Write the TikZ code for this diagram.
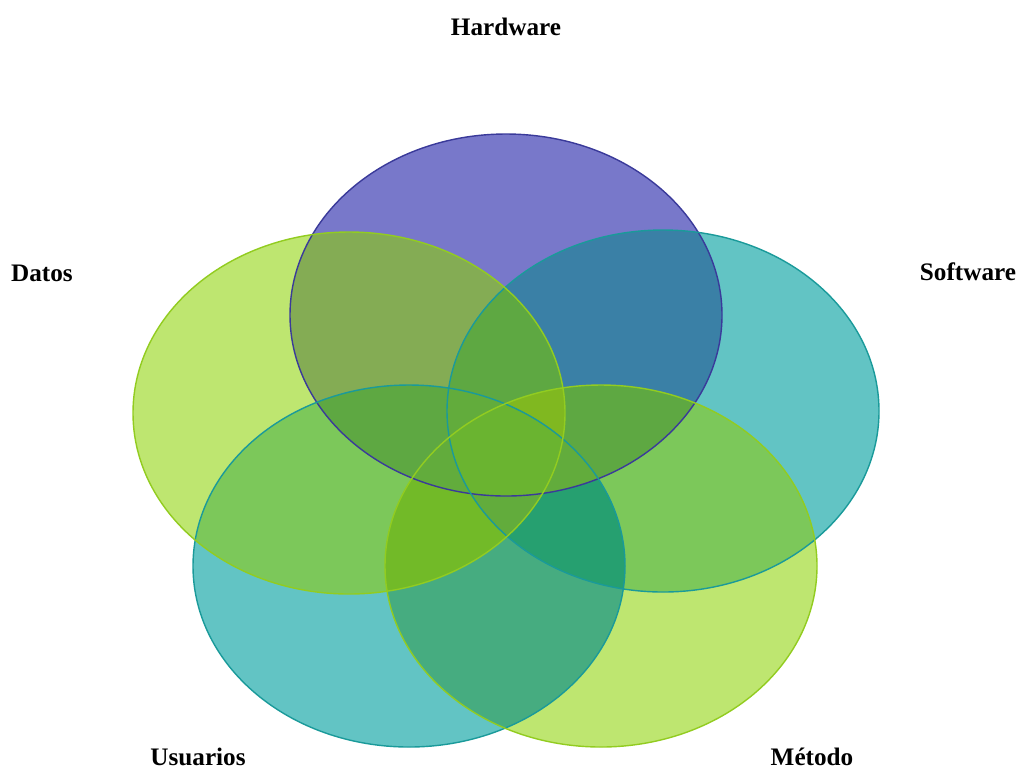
\documentclass[tikz,border=0pt]{standalone}
\usepackage{fontspec}
\setmainfont{Liberation Serif}
\usepackage{tikz}
\usetikzlibrary{positioning}
% single sets
\definecolor{hwfill}{RGB}{120,120,202}
\definecolor{hwline}{RGB}{58,58,154}
\definecolor{lime}{RGB}{190,230,112}
\definecolor{limeline}{RGB}{146,204,32}
\definecolor{teal}{RGB}{98,196,196}
\definecolor{tealline}{RGB}{26,154,154}
% overlaps
\definecolor{pairHD}{RGB}{132,172,84}
\definecolor{pairHS}{RGB}{58,128,166}
\definecolor{pairG}{RGB}{124,200,90}
\definecolor{pairUM}{RGB}{70,172,128}
\definecolor{tri}{RGB}{94,168,66}
\definecolor{triDUM}{RGB}{114,186,40}
\definecolor{triSUM}{RGB}{38,160,112}
\definecolor{quad}{RGB}{98,172,60}
\definecolor{quadHDSM}{RGB}{128,184,32}
\definecolor{five}{RGB}{106,180,48}
\tikzset{
  petal/.style={line width=1.2pt},
  lbl/.style={font=\fontsize{21.5}{24}\selectfont\bfseries, inner sep=0pt}
}

\begin{document}
\begin{tikzpicture}[x=0.03cm, y=-0.03cm]
  \useasboundingbox (0,0) rectangle (1021,771);

  % centres of the five sets
  \coordinate (H) at (506,315);
  \coordinate (S) at (663,411);
  \coordinate (M) at (601,566);
  \coordinate (U) at (409,566);
  \coordinate (D) at (349,413);

  % single sets
  \fill[hwfill] (H) ellipse (216 and 181);
  \foreach \s/\c in {S/teal, M/lime, U/teal, D/lime}
    \fill[\c] (\s) ellipse (216 and 181);

  % two sets
  \foreach \a/\b/\c in {H/D/pairHD, H/S/pairHS, D/U/pairG, S/M/pairG, U/M/pairUM,
                        H/U/tri, H/M/tri, D/S/tri, D/M/tri, S/U/tri}{
    \begin{scope}
      \clip (\a) ellipse (216 and 181);
      \fill[\c] (\b) ellipse (216 and 181);
    \end{scope}
  }

  % three sets
  \foreach \a/\b/\c/\d in {H/D/S/tri, H/D/U/tri, H/D/M/tri, H/S/U/tri, H/S/M/tri,
                           H/U/M/tri, D/S/U/tri, D/S/M/tri, D/U/M/triDUM, S/U/M/triSUM}{
    \begin{scope}
      \clip (\a) ellipse (216 and 181);
      \clip (\b) ellipse (216 and 181);
      \fill[\d] (\c) ellipse (216 and 181);
    \end{scope}
  }

  % four and five sets
  \foreach \a/\b/\c/\d/\e in {H/D/S/U/quad, H/D/S/M/quadHDSM, H/D/U/M/quad,
                              H/S/U/M/quad, D/S/U/M/quad}{
    \begin{scope}
      \clip (\a) ellipse (216 and 181);
      \clip (\b) ellipse (216 and 181);
      \clip (\c) ellipse (216 and 181);
      \fill[\e] (\d) ellipse (216 and 181);
    \end{scope}
  }
  \begin{scope}
    \clip (H) ellipse (216 and 181);
    \clip (D) ellipse (216 and 181);
    \clip (S) ellipse (216 and 181);
    \clip (U) ellipse (216 and 181);
    \fill[five] (M) ellipse (216 and 181);
  \end{scope}

  % outlines
  \draw[petal, hwline] (H) ellipse (216 and 181);
  \draw[petal, tealline] (S) ellipse (216 and 181);
  \draw[petal, tealline] (U) ellipse (216 and 181);
  \draw[petal, limeline] (M) ellipse (216 and 181);
  \draw[petal, limeline] (D) ellipse (216 and 181);

  % labels
  \node[lbl] (hw) at (506,27) {Hardware};
  \node[lbl] (datos) at (42,273) {Datos};
  \node[lbl] (sw) at (968,272) {Software};
  \node[lbl] (usu) at (198,757) {Usuarios};
  \node[lbl] (met) at (812,757) {Método};
\end{tikzpicture}
\end{document}
